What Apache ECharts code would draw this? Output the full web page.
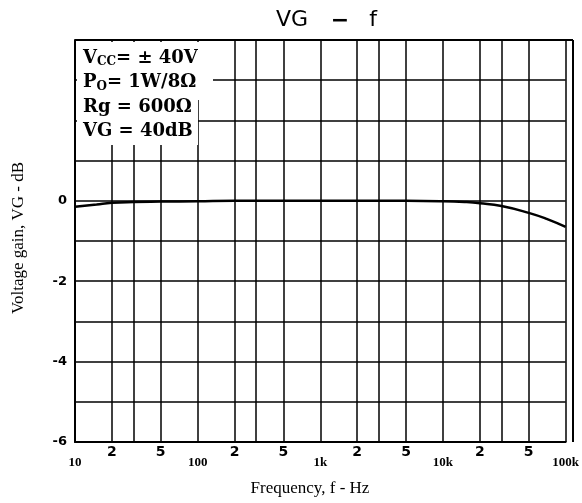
<!DOCTYPE html>
<html><head><meta charset="utf-8">
<script src="https://cdn.jsdelivr.net/npm/echarts@6/dist/echarts.min.js"></script>
<style>html,body{margin:0;padding:0;background:#fff}#c{width:582px;height:503px}</style>
</head><body><div id="c"></div>
<script>
const freqs = [10, 15, 20, 30, 50, 100, 200, 500, 1000, 2000, 5000, 10000, 15000, 20000, 30000, 50000, 70000, 100000];
const gains = [-0.15, -0.09, -0.05, -0.03, -0.02, -0.01, 0, 0, 0, 0, 0, -0.01, -0.03, -0.06, -0.13, -0.3, -0.45, -0.65];
const gridFreqs = [10,20,30,50,100,200,300,500,1000,2000,3000,5000,10000,20000,30000,50000,100000];
const labelFreqs = [10,20,50,100,200,500,1000,2000,5000,10000,20000,50000,100000];
const labelTexts = ['10','2','5','100','2','5','1k','2','5','10k','2','5','100k'];
const yTicks = [0, -2, -4, -6];

const lg = v => Math.log10(v);
const chart = echarts.init(document.getElementById('c'));
const serif = '"Liberation Serif","DejaVu Serif",serif';
const wserif = '"DejaVu Serif",serif';
chart.setOption({
  animation: false,
  grid: {left: 75, right: 9, top: 40, bottom: 61},
  xAxis: {
    type: 'value', min: 1, max: 5,
    axisLine: {show: true, onZero: false, lineStyle: {color: '#000', width: 2}},
    axisTick: {show: false, customValues: gridFreqs.map(lg)},
    splitLine: {show: true, lineStyle: {color: '#000', width: 1.5}},
    axisLabel: {
      customValues: labelFreqs.map(lg), margin: 3,
      formatter: v => {
        const f = Math.round(Math.pow(10, v));
        const i = labelFreqs.indexOf(f);
        if (i < 0) return '';
        const t = labelTexts[i];
        return (t === '2' || t === '5') ? '{m|' + t + '}' : '{d|' + t + '}';
      },
      rich: {
        m: {fontSize: 14, fontWeight: 'bold', color: '#000', fontFamily: 'DejaVu Sans'},
        d: {fontSize: 13, fontWeight: 'bold', color: '#000', fontFamily: serif, padding: [11, 0, 0, 0]}
      }
    }
  },
  yAxis: {
    type: 'value', min: -6, max: 4, interval: 1,
    axisLine: {show: true, lineStyle: {color: '#000', width: 2}},
    axisTick: {show: false},
    splitLine: {show: true, lineStyle: {color: '#000', width: 1.5}},
    axisLabel: {
      margin: 8, color: '#000', fontSize: 13, fontWeight: 'bold', fontFamily: 'DejaVu Sans',
      formatter: v => yTicks.indexOf(v) >= 0 ? String(v) : ''
    }
  },
  series: [{
    type: 'line', smooth: true, symbol: 'none',
    lineStyle: {color: '#000', width: 2.5},
    data: freqs.map((f, i) => [lg(f), gains[i]])
  }],
  graphic: [
    {type: 'rect', shape: {x: 77, y: 42, width: 136, height: 58}, style: {fill: '#fff'}, z: 100},
    {type: 'rect', shape: {x: 77, y: 99, width: 121, height: 46}, style: {fill: '#fff'}, z: 100},
    {type: 'line', shape: {x1: 75, y1: 40, x2: 573, y2: 40}, style: {stroke: '#000', lineWidth: 2}, z: 101},
    {type: 'line', shape: {x1: 573, y1: 40, x2: 573, y2: 442}, style: {stroke: '#000', lineWidth: 2}, z: 101},
    {type: 'text', left: 83, top: 46, z: 102, style: {
      text: 'V{s|CC}= ± 40V\nP{s|O}= 1W/8Ω\nRg = 600Ω\nVG = 40dB',
      font: 'bold 18px ' + wserif, fill: '#000', lineHeight: 24.5,
      rich: {s: {font: 'bold 12px ' + wserif, fill: '#000', padding: [8, 0, 0, 0]}}
    }},
    {type: 'text', x: 292, y: 20, z: 102, style: {text: 'VG', font: '22px "DejaVu Sans"', fill: '#000', align: 'center', verticalAlign: 'middle'}},
    {type: 'text', x: 340, y: 21, z: 102, style: {text: '−', font: 'bold 22px "DejaVu Sans"', fill: '#000', align: 'center', verticalAlign: 'middle'}},
    {type: 'text', x: 373, y: 20, z: 102, style: {text: 'f', font: '22px "DejaVu Sans"', fill: '#000', align: 'center', verticalAlign: 'middle'}},
    {type: 'text', x: 19, y: 238, rotation: Math.PI / 2, z: 102, style: {
      text: 'Voltage gain, VG - dB', font: '17px ' + serif, fill: '#000', align: 'center', verticalAlign: 'middle'
    }},
    {type: 'text', x: 310, y: 489, z: 102, style: {
      text: 'Frequency, f - Hz', font: '17px ' + serif, fill: '#000', align: 'center', verticalAlign: 'middle'
    }}
  ]
});
</script></body></html>
